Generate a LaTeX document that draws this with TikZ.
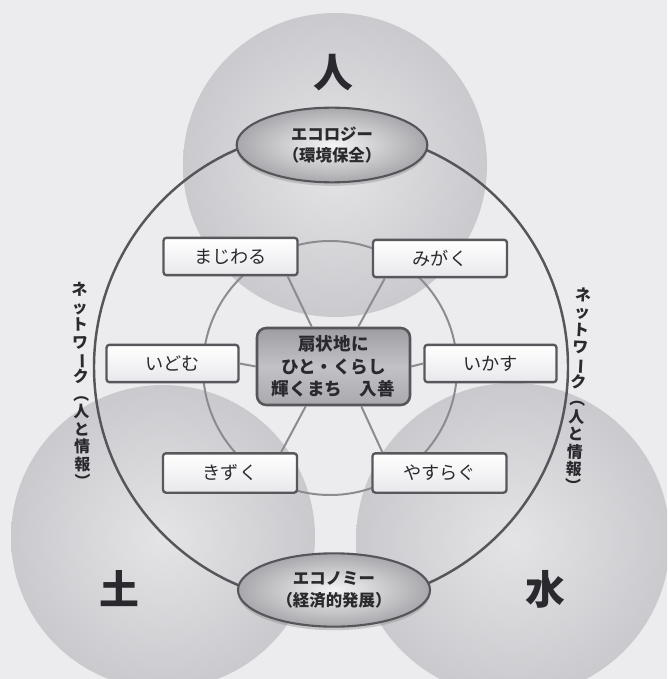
\documentclass[tikz,border=0pt]{standalone}
\usepackage{fontspec}
\usepackage{graphicx}
\usetikzlibrary{shapes.geometric,calc,shadows}
\newfontfamily\jp{Noto Sans CJK JP}
\newcommand\vbar{\rotatebox[origin=c]{-90}{ー}}
\definecolor{bg}{HTML}{ECECEF}
\definecolor{ballin}{HTML}{E4E4E7}
\definecolor{ballout}{HTML}{CACACE}
\definecolor{ringdark}{HTML}{55555A}
\definecolor{ringlight}{HTML}{8C8C90}
\definecolor{boxline}{HTML}{58585C}
\definecolor{boxfill}{HTML}{E8E8EC}
\definecolor{ellin}{HTML}{F4F4F6}
\definecolor{ellout}{HTML}{A8A8AC}
\definecolor{ctrtop}{HTML}{9E9EA2}
\definecolor{ctrmid}{HTML}{C2C2C6}
\definecolor{ctrbot}{HTML}{AAAAAE}
\definecolor{txt}{HTML}{2A2A2E}
\begin{document}
\begin{tikzpicture}[x=0.03cm,y=-0.03cm,
  ball/.style={inner color=ballin, outer color=ballout},
  elem/.style={font=\jp\bfseries\fontsize{34}{36}\selectfont, text=txt},
  lbl/.style={draw=boxline, line width=2pt, top color=white, bottom color=boxfill,
    rounded corners=2.5pt, minimum width=4.02cm, minimum height=1.12cm, inner sep=0pt,
    font=\jp\fontsize{15.5}{17}\selectfont, text=txt},
  ell/.style={ellipse, draw=ringdark, line width=1.8pt, inner color=ellin, outer color=ellout,
    minimum width=5.72cm, minimum height=2.24cm, inner sep=0pt, align=center, text=txt,
    font=\jp\bfseries\fontsize{14}{18.5}\selectfont,
    drop shadow={shadow xshift=0pt, shadow yshift=-3pt, opacity=0.35}},
  ctrbox/.style={draw=ringdark, line width=2.2pt, rounded corners=8pt,
    top color=ctrtop, bottom color=ctrbot, middle color=ctrmid,
    minimum width=4.59cm, minimum height=2.31cm, inner sep=0pt, align=center, text=txt,
    font=\jp\bfseries\fontsize{15}{19}\selectfont},
  net/.style={align=center, inner sep=0pt, text=txt, font=\jp\bfseries\fontsize{13.5}{14.9}\selectfont},
  ring/.style={draw=ringdark, line width=2.1pt},
  inring/.style={draw=ringlight, line width=1.7pt},
  conn/.style={draw=ringlight, line width=1.7pt}]
\useasboundingbox (0,0) rectangle (667,679);
\clip (0,0) rectangle (667,679);
\fill[bg] (0,0) rectangle (667,679);
% three spheres
\shade[ball] (335,165) circle (152);
\shade[ball] (163,537) circle (152);
\shade[ball] (513,540) circle (157);
\node[elem] (hito) at (333,73) {人};
\node[elem] (tsuchi) at (119,589) {土};
\node[elem] (mizu) at (545,589) {水};
% rings
\draw[ring] (331,367) circle (237);
\draw[inring] (330,368) circle (127);
% network labels
\node[net, rotate=1] (netL) at (81,385) {ネ\\ッ\\ト\\ワ\\\vbar\\ク\\︵\\人\\と\\情\\報\\︶};
\node[net, rotate=-3] (netR) at (578,390) {ネ\\ッ\\ト\\ワ\\\vbar\\ク\\︵\\人\\と\\情\\報\\︶};
% nodes
\node[ctrbox] (ctr) at (333.5,366.5) {扇状地に\\ひと・くらし\\輝くまち　入善};
\node[lbl] (mz) at (230.5,256.5) {まじわる};
\node[lbl] (mg) at (440,258.5) {みがく};
\node[lbl, minimum width=3.96cm] (id) at (172.5,363.5) {いどむ};
\node[lbl, minimum width=3.96cm] (ik) at (490.5,363.5) {いかす};
\node[lbl, minimum height=1.18cm] (kz) at (230,473) {きずく};
\node[lbl, minimum height=1.18cm] (ys) at (439.5,473) {やすらぐ};
% connectors
\draw[conn] ($(mz.south east)+(-11,0)$) -- ($(ctr.north west)+(56,0)$);
\draw[conn] ($(mg.south west)+(13,0)$) -- ($(ctr.north east)+(-53,0)$);
\draw[conn] ($(ctr.south west)+(50,0)$) -- ($(kz.north east)+(-17,0)$);
\draw[conn] ($(ctr.south east)+(-50,0)$) -- ($(ys.north west)+(11,0)$);
\draw[conn] (ctr.west) -- (id.east);
\draw[conn] (ctr.east) -- (ik.west);
% ellipses
\node[ell] (eco) at (332,145) {エコロジー\\（環境保全）};
\node[ell, minimum width=5.76cm, minimum height=2.2cm] (ecn) at (334,590) {エコノミー\\（経済的発展）};
\end{tikzpicture}
\end{document}
